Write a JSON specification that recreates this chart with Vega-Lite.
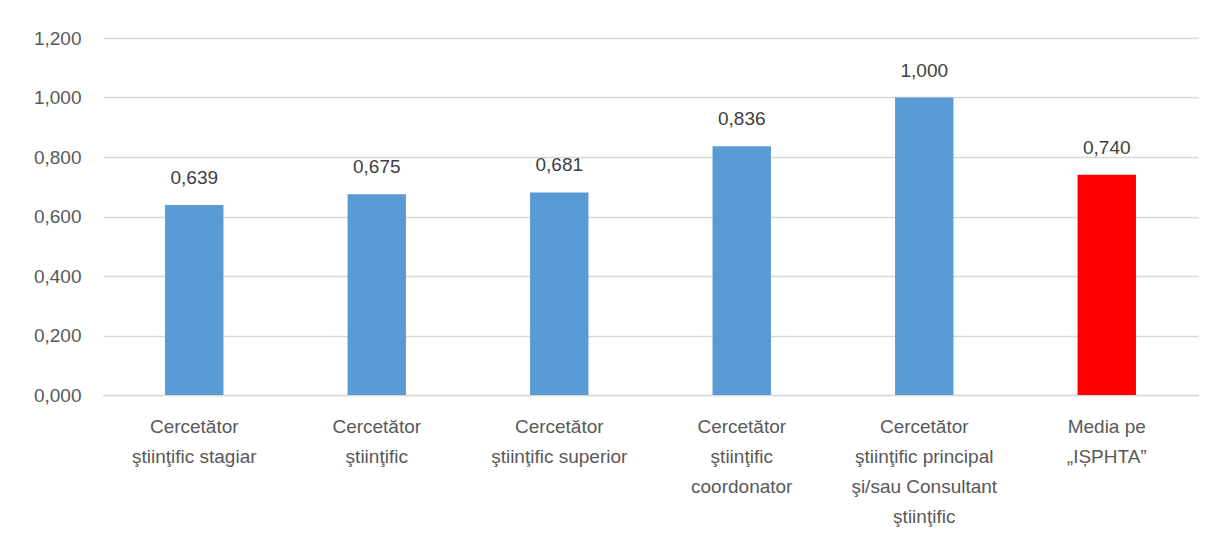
{
  "$schema": "https://vega.github.io/schema/vega-lite/v6.json",
  "autosize": {"type": "none"},
  "width": 1095,
  "height": 357,
  "padding": {"left": 103, "top": 38, "right": 15, "bottom": 140},
  "background": "white",
  "config": {
    "view": {"stroke": null},
    "font": "Liberation Sans",
    "locale": {"number": {"decimal": ",", "thousands": ".", "grouping": [3], "currency": ["", " lei"]}}
  },
  "data": {
    "values": [
      {"categorie": "Cercetător\nştiinţific stagiar", "valoare": 0.639, "tip": "grad"},
      {"categorie": "Cercetător\nştiinţific", "valoare": 0.675, "tip": "grad"},
      {"categorie": "Cercetător\nştiinţific superior", "valoare": 0.681, "tip": "grad"},
      {"categorie": "Cercetător\nştiinţific\ncoordonator", "valoare": 0.836, "tip": "grad"},
      {"categorie": "Cercetător\nştiinţific principal\nşi/sau Consultant\nştiinţific", "valoare": 1.0, "tip": "grad"},
      {"categorie": "Media pe\n„IȘPHTA”", "valoare": 0.74, "tip": "media"}
    ]
  },
  "encoding": {
    "x": {
      "field": "categorie",
      "type": "nominal",
      "sort": null,
      "scale": {"paddingInner": 0.68, "paddingOuter": 0.34},
      "axis": {
        "title": null,
        "labelAngle": 0,
        "labelExpr": "split(datum.label, '\\n')",
        "labelFontSize": 19,
        "labelLineHeight": 30,
        "labelColor": "#595959",
        "labelPadding": 22,
        "ticks": false,
        "domain": true,
        "domainColor": "#d9d9d9",
        "domainWidth": 1.5,
        "labelBaseline": "top"
      }
    },
    "y": {
      "field": "valoare",
      "type": "quantitative",
      "scale": {"domain": [0, 1.2], "nice": false},
      "axis": {
        "title": null,
        "values": [0, 0.2, 0.4, 0.6, 0.8, 1.0, 1.2],
        "format": ".3f",
        "labelFontSize": 19,
        "labelColor": "#595959",
        "labelPadding": 22,
        "ticks": false,
        "domain": false,
        "gridColor": "#d9d9d9",
        "gridWidth": 1.5
      }
    }
  },
  "layer": [
    {
      "mark": {"type": "bar"},
      "encoding": {
        "color": {
          "field": "tip",
          "type": "nominal",
          "scale": {"domain": ["grad", "media"], "range": ["#5B9BD5", "#FF0000"]},
          "legend": null
        }
      }
    },
    {
      "mark": {"type": "text", "baseline": "bottom", "dy": -17, "fontSize": 19, "color": "#404040"},
      "encoding": {
        "text": {"field": "valoare", "type": "quantitative", "format": ".3f"}
      }
    }
  ]
}
